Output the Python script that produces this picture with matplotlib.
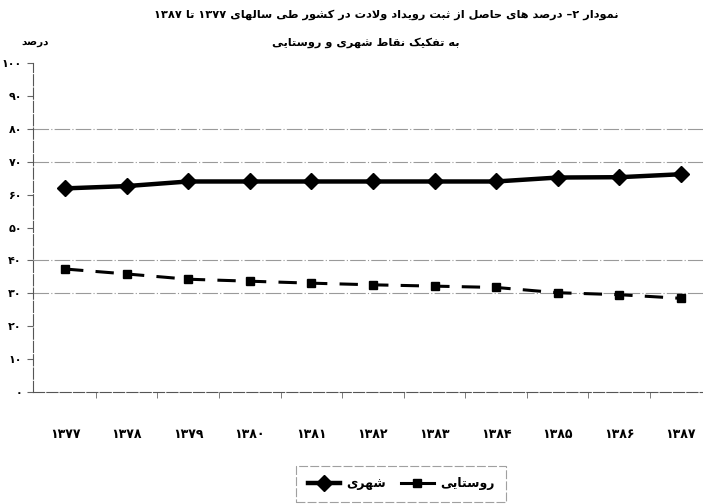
import numpy as np
import matplotlib
matplotlib.use("Agg")
import matplotlib.pyplot as plt
from matplotlib.lines import Line2D

# ---- data ----
years = [1377, 1378, 1379, 1380, 1381, 1382, 1383, 1384, 1385, 1386, 1387]
urban = [61.9, 62.6, 64.0, 64.0, 64.0, 64.0, 64.0, 64.0, 65.2, 65.3, 66.2]
rural = [37.4, 35.9, 34.3, 33.7, 33.1, 32.6, 32.2, 31.8, 30.2, 29.6, 28.5]
yticks = [0, 10, 20, 30, 40, 50, 60, 70, 80, 90, 100]
grid_at = [30, 40, 70, 80]

TITLE1 = "نمودار ۲– درصد های حاصل از ثبت رویداد ولادت در کشور طی سالهای ۱۳۷۷ تا ۱۳۸۷"
TITLE2 = "به تفکیک نقاط شهری و روستایی"
YLABEL = "درصد"
LBL_URBAN = "شهری"
LBL_RURAL = "روستایی"

# ---- simple persian shaping (matplotlib has no bidi / joining) ----
# isolated, final, initial, medial
FORMS = {
    'ا': ('\uFE8D', '\uFE8E', None, None),
    'ب': ('\uFE8F', '\uFE90', '\uFE91', '\uFE92'),
    'پ': ('\uFB56', '\uFB57', '\uFB58', '\uFB59'),
    'ت': ('\uFE95', '\uFE96', '\uFE97', '\uFE98'),
    'ث': ('\uFE99', '\uFE9A', '\uFE9B', '\uFE9C'),
    'ج': ('\uFE9D', '\uFE9E', '\uFE9F', '\uFEA0'),
    'چ': ('\uFB7A', '\uFB7B', '\uFB7C', '\uFB7D'),
    'ح': ('\uFEA1', '\uFEA2', '\uFEA3', '\uFEA4'),
    'خ': ('\uFEA5', '\uFEA6', '\uFEA7', '\uFEA8'),
    'د': ('\uFEA9', '\uFEAA', None, None),
    'ذ': ('\uFEAB', '\uFEAC', None, None),
    'ر': ('\uFEAD', '\uFEAE', None, None),
    'ز': ('\uFEAF', '\uFEB0', None, None),
    'ژ': ('\uFB8A', '\uFB8B', None, None),
    'س': ('\uFEB1', '\uFEB2', '\uFEB3', '\uFEB4'),
    'ش': ('\uFEB5', '\uFEB6', '\uFEB7', '\uFEB8'),
    'ص': ('\uFEB9', '\uFEBA', '\uFEBB', '\uFEBC'),
    'ض': ('\uFEBD', '\uFEBE', '\uFEBF', '\uFEC0'),
    'ط': ('\uFEC1', '\uFEC2', '\uFEC3', '\uFEC4'),
    'ظ': ('\uFEC5', '\uFEC6', '\uFEC7', '\uFEC8'),
    'ع': ('\uFEC9', '\uFECA', '\uFECB', '\uFECC'),
    'غ': ('\uFECD', '\uFECE', '\uFECF', '\uFED0'),
    'ف': ('\uFED1', '\uFED2', '\uFED3', '\uFED4'),
    'ق': ('\uFED5', '\uFED6', '\uFED7', '\uFED8'),
    'ک': ('\uFB8E', '\uFB8F', '\uFB90', '\uFB91'),
    'گ': ('\uFB92', '\uFB93', '\uFB94', '\uFB95'),
    'ل': ('\uFEDD', '\uFEDE', '\uFEDF', '\uFEE0'),
    'م': ('\uFEE1', '\uFEE2', '\uFEE3', '\uFEE4'),
    'ن': ('\uFEE5', '\uFEE6', '\uFEE7', '\uFEE8'),
    'و': ('\uFEED', '\uFEEE', None, None),
    'ه': ('\uFEE9', '\uFEEA', '\uFEEB', '\uFEEC'),
    'ی': ('\uFBFC', '\uFBFD', '\uFBFE', '\uFBFF'),
}
FA_DIGITS = str.maketrans("0123456789", "۰۱۲۳۴۵۶۷۸۹")


def shape(word):
    out = []
    i = 0
    n = len(word)
    while i < n:
        c = word[i]
        if c not in FORMS:
            out.append(c); i += 1; continue
        prev = word[i - 1] if i > 0 else None
        prev_j = prev in FORMS and FORMS[prev][2] is not None
        if c == 'ل' and i + 1 < n and word[i + 1] == 'ا':
            out.append('\uFEFC' if prev_j else '\uFEFB')
            i += 2; continue
        nxt = word[i + 1] if i + 1 < n else None
        next_j = nxt in FORMS and FORMS[c][2] is not None
        iso, fin, ini, med = FORMS[c]
        if prev_j and next_j:
            out.append(med)
        elif prev_j:
            out.append(fin)
        elif next_j:
            out.append(ini)
        else:
            out.append(iso)
        i += 1
    return "".join(out)


def fa(text):
    toks = []
    for t in text.split(" "):
        if all(ch in "۰۱۲۳۴۵۶۷۸۹" for ch in t):
            toks.append(t)
        else:
            toks.append(shape(t)[::-1])
    return " ".join(toks[::-1])


plt.rcParams['font.family'] = ['DejaVu Sans']

fig = plt.figure(figsize=(7.03, 5.04), dpi=100)
ax = fig.add_axes([0.047, 0.222, 0.953, 0.653])

x = np.arange(len(years))
ax.plot(x, urban, color="black", lw=3.2, marker="D", ms=8, zorder=3)
ax.plot(x, rural, color="black", lw=2.2, ls=(0, (6, 4)), marker="s", ms=6, zorder=3)

for g in grid_at:
    ax.axhline(g, color="#9a9a9a", lw=0.8, ls=(0, (14, 2, 1, 2)), zorder=1)

ax.set_ylim(0, 100)
ax.set_xlim(-0.52, 10.36)
ax.set_yticks(yticks)
ax.set_yticklabels([str(v).translate(FA_DIGITS) for v in yticks],
                   fontsize=8, fontweight="bold")
ax.set_xticks(x)
ax.set_xticklabels([str(y).translate(FA_DIGITS) for y in years],
                   fontsize=9, fontweight="bold")
ax.set_xticks(np.arange(len(years) - 1) + 0.5, minor=True)
ax.tick_params(axis="x", which="major", length=0, pad=26)
ax.tick_params(axis="x", which="minor", length=4, color="#666")
ax.tick_params(axis="y", length=4, width=0.8, color="#666", pad=4)

for s in ["top", "right"]:
    ax.spines[s].set_visible(False)
for s in ["left", "bottom"]:
    ax.spines[s].set_color("#555")
    ax.spines[s].set_linewidth(0.8)
    ax.spines[s].set_linestyle((0, (10, 2)))

fig.text(0.55, 0.97, fa(TITLE1), ha="center", va="center",
         fontsize=8.2, fontweight="bold")
fig.text(0.52, 0.915, fa(TITLE2), ha="center", va="center",
         fontsize=8.2, fontweight="bold")
fig.text(0.05, 0.917, fa(YLABEL), ha="center", va="center",
         fontsize=7.5, fontweight="bold")

handles = [
    Line2D([], [], color="black", lw=3.2, marker="D", ms=8),
    Line2D([], [], color="black", lw=2.2, marker="s", ms=6),
]
leg = fig.legend(handles, [fa(LBL_URBAN), fa(LBL_RURAL)], ncol=2,
                 loc="center", bbox_to_anchor=(401 / 703, 1 - 484 / 504),
                 prop={"weight": "bold", "size": 9}, handlelength=2.6,
                 handletextpad=0.5, columnspacing=1.2, fancybox=False,
                 borderpad=0.9)
leg.get_frame().set_edgecolor("#888")
leg.get_frame().set_linestyle((0, (8, 2)))
leg.get_frame().set_linewidth(0.8)

fig.savefig("out.png", dpi=100)
